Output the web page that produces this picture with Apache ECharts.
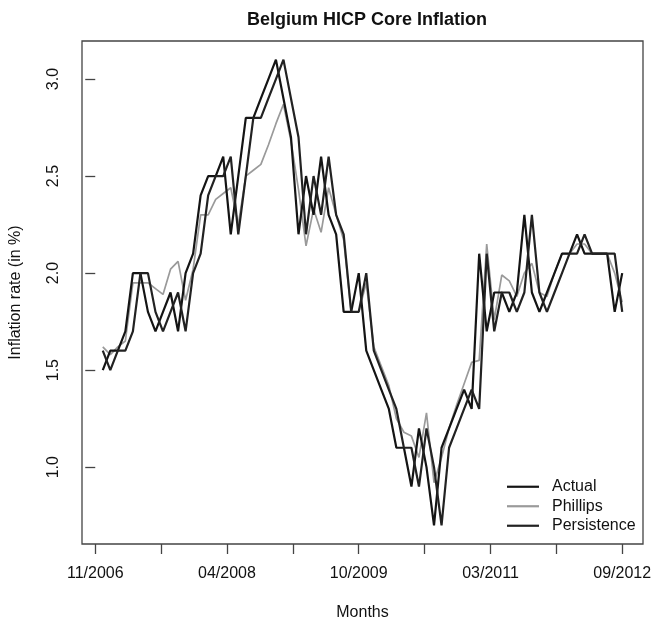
<!DOCTYPE html>
<html>
<head>
<meta charset="utf-8">
<script src="https://cdn.jsdelivr.net/npm/echarts@6/dist/echarts.min.js"></script>
<style>
	html, body { margin: 0; padding: 0; background: #fff; }
	#chart { width: 656px; height: 627px; }
</style>
</head>
<body>
<div id="chart"></div>
<script>
// months after 11/2006 (index 1 = 12/2006 ... 70 = 09/2012)
const actual = [
	1.5, 1.6, 1.6, 1.7, 2.0, 2.0, 1.8, 1.7, 1.8, 1.9,
	1.7, 2.0, 2.1, 2.4, 2.5, 2.5, 2.6, 2.2, 2.5, 2.8,
	2.8, 2.9, 3.0, 3.1, 2.9, 2.7, 2.2, 2.5, 2.3, 2.6,
	2.3, 2.2, 1.8, 1.8, 2.0, 1.6, 1.5, 1.4, 1.3, 1.1,
	1.1, 0.9, 1.2, 1.0, 0.7, 1.1, 1.2, 1.3, 1.4, 1.3,
	2.1, 1.7, 1.9, 1.9, 1.8, 1.9, 2.3, 1.9, 1.8, 1.9,
	2.0, 2.1, 2.1, 2.2, 2.1, 2.1, 2.1, 2.1, 1.8, 2.0
];
const phillips = [
	1.62, 1.58, 1.62, 1.65, 1.95, 1.95, 1.95, 1.92, 1.89, 2.02,
	2.06, 1.86, 2.02, 2.30, 2.30, 2.38, 2.41, 2.44, 2.25, 2.50,
	2.53, 2.56, 2.66, 2.77, 2.87, 2.68, 2.43, 2.14, 2.33, 2.21,
	2.44, 2.30, 2.17, 1.80, 1.80, 1.95, 1.62, 1.52, 1.42, 1.25,
	1.18, 1.16, 1.05, 1.28, 0.92, 1.05, 1.20, 1.32, 1.43, 1.54,
	1.55, 2.15, 1.76, 1.99, 1.96, 1.88, 2.00, 2.05, 1.90, 1.88,
	2.00, 2.10, 2.10, 2.15, 2.15, 2.10, 2.10, 2.10, 2.00, 1.85
];
const persistence = [
	1.6, 1.5, 1.6, 1.6, 1.7, 2.0, 2.0, 1.8, 1.7, 1.8,
	1.9, 1.7, 2.0, 2.1, 2.4, 2.5, 2.5, 2.6, 2.2, 2.5,
	2.8, 2.8, 2.9, 3.0, 3.1, 2.9, 2.7, 2.2, 2.5, 2.3,
	2.6, 2.3, 2.2, 1.8, 1.8, 2.0, 1.6, 1.5, 1.4, 1.3,
	1.1, 1.1, 0.9, 1.2, 1.0, 0.7, 1.1, 1.2, 1.3, 1.4,
	1.3, 2.1, 1.7, 1.9, 1.9, 1.8, 1.9, 2.3, 1.9, 1.8,
	1.9, 2.0, 2.1, 2.1, 2.2, 2.1, 2.1, 2.1, 2.1, 1.8
];
const xTicks = [0, 8.75, 17.5, 26.25, 35, 43.75, 52.5, 61.25, 70];
const xTickLabels = ["11/2006", "", "04/2008", "", "10/2009", "", "03/2011", "", "09/2012"];
const yTicks = [1.0, 1.5, 2.0, 2.5, 3.0];

const font = "'Liberation Sans', Arial, Helvetica, sans-serif";

function toPairs(arr) {
	return arr.map((v, i) => [i + 1, v]);
}

const chart = echarts.init(document.getElementById("chart"));
chart.setOption({
	animation: false,
	title: {
		text: "Belgium HICP Core Inflation",
		left: 362,
		top: 6,
		textAlign: "center",
		textStyle: {
			fontFamily: font,
			fontSize: 18,
			fontWeight: "bold",
			color: "#111"
		}
	},
	legend: {
		orient: "vertical",
		left: 507,
		top: 477,
		padding: 0,
		itemGap: 0,
		icon: "rect",
		itemWidth: 32,
		itemHeight: 2.2,
		textStyle: {
			fontFamily: font,
			fontSize: 16,
			color: "#111",
			lineHeight: 19.5,
			padding: [0, 0, 0, 8]
		},
		data: ["Actual", "Phillips", "Persistence"]
	},
	grid: {
		left: 82,
		top: 41,
		right: 13,
		bottom: 83,
		show: true,
		borderColor: "#444",
		borderWidth: 1.3
	},
	xAxis: {
		type: "value",
		min: -1.76,
		max: 72.76,
		name: "Months",
		nameLocation: "middle",
		nameGap: 61,
		nameTextStyle: {
			fontFamily: font,
			fontSize: 16,
			color: "#111"
		},
		axisLine: { show: false },
		axisTick: {
			show: true,
			length: 10,
			customValues: xTicks,
			lineStyle: { color: "#444", width: 1.3 }
		},
		axisLabel: {
			customValues: xTicks,
			margin: 22,
			fontFamily: font,
			fontSize: 16,
			color: "#111",
			formatter: function (v) {
				return xTickLabels[Math.round(v / 8.75)] || "";
			}
		},
		splitLine: { show: false }
	},
	yAxis: {
		type: "value",
		min: 0.604,
		max: 3.196,
		name: "Inflation rate (in %)",
		nameLocation: "middle",
		nameGap: 58,
		nameTextStyle: {
			fontFamily: font,
			fontSize: 16,
			color: "#111"
		},
		axisLine: { show: false },
		axisTick: {
			show: true,
			length: 10,
			customValues: yTicks,
			lineStyle: { color: "#444", width: 1.3 }
		},
		axisLabel: {
			customValues: yTicks,
			rotate: 90,
			margin: 20,
			fontFamily: font,
			fontSize: 16,
			color: "#111",
			formatter: function (v) {
				return v.toFixed(1);
			}
		},
		splitLine: { show: false }
	},
	series: [
		{
			name: "Actual",
			type: "line",
			symbol: "none",
			color: "#141414",
			lineStyle: { width: 2.2, color: "#141414" },
			data: toPairs(actual),
			z: 3
		},
		{
			name: "Phillips",
			type: "line",
			symbol: "none",
			color: "#9a9a9a",
			lineStyle: { width: 1.7, color: "#9a9a9a" },
			data: toPairs(phillips),
			z: 2
		},
		{
			name: "Persistence",
			type: "line",
			symbol: "none",
			color: "#222",
			lineStyle: { width: 2.2, color: "#222" },
			data: toPairs(persistence),
			z: 3
		}
	]
});
</script>
</body>
</html>
